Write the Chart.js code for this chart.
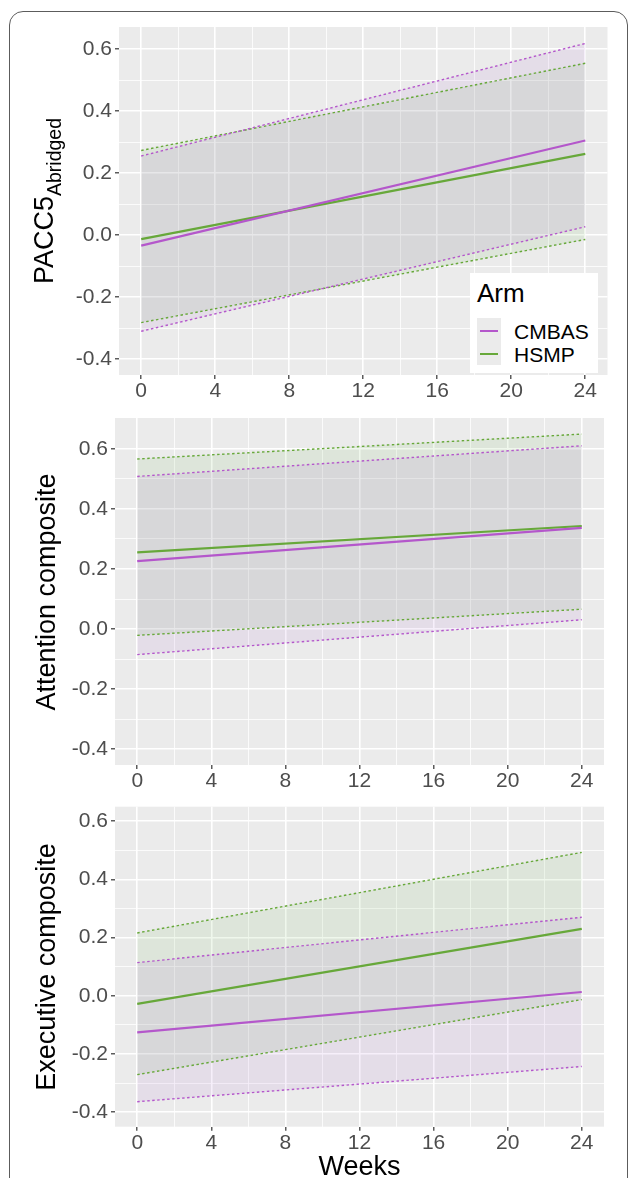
<!DOCTYPE html>
<html><head><meta charset="utf-8">
<script src="https://cdn.jsdelivr.net/npm/chart.js@4.4.1/dist/chart.umd.min.js"></script>
<style>
html,body{margin:0;padding:0;background:#fff;}
body{width:630px;height:1178px;overflow:hidden;position:relative;font-family:"Liberation Sans",Arial,sans-serif;}
canvas{position:absolute;left:0;}
#frame{position:absolute;left:9px;top:11px;width:619px;height:1300px;border:1.5px solid #5c5c5c;border-radius:14px;box-sizing:border-box;}
.ytitle{position:absolute;white-space:nowrap;font-size:27px;line-height:1;color:#000;transform:translate(-50%,-50%) rotate(-90deg);}
.sub{font-size:19.5px;position:relative;top:8px;}
#xtitle{position:absolute;white-space:nowrap;font-size:27px;line-height:1;color:#000;transform:translateX(-50%);}
#legend{position:absolute;left:470px;top:273px;width:128px;height:100px;background:#fff;}
.lg{position:absolute;white-space:nowrap;line-height:1;color:#000;}
</style>
</head><body>
<div id="frame"></div>
<canvas id="c1" width="630" height="400" style="top:0px"></canvas>
<canvas id="c2" width="630" height="390" style="top:400px"></canvas>
<canvas id="c3" width="630" height="388" style="top:790px"></canvas>

<div class="ytitle" style="left:44px;top:201px;">PACC5<span class="sub">Abridged</span></div>
<div class="ytitle" style="left:46px;top:592px;">Attention composite</div>
<div class="ytitle" style="left:46px;top:967px;">Executive composite</div>
<div id="xtitle" style="left:359.5px;top:1153px;">Weeks</div>

<div id="legend">
  <div class="lg" style="left:7px;top:7px;font-size:26px;">Arm</div>
  <div style="position:absolute;left:7px;top:45px;width:24px;height:47px;background:#ebebeb;"></div>
  <div style="position:absolute;left:10px;top:56.7px;width:18px;height:2px;background:#B457CB;"></div>
  <div style="position:absolute;left:10px;top:79.7px;width:18px;height:2px;background:#67A83A;"></div>
  <div class="lg" style="left:44px;top:47.5px;font-size:21px;">CMBAS</div>
  <div class="lg" style="left:44px;top:70.5px;font-size:21px;">HSMP</div>
</div>

<script>
// ---------- data ----------
const weeks = [0, 24];
const xMajor = [0, 4, 8, 12, 16, 20, 24];
const xMinor = [2, 6, 10, 14, 18, 22];
const xTickLabels = ['0', '4', '8', '12', '16', '20', '24'];
const yMajor = [-0.4, -0.2, 0, 0.2, 0.4, 0.6];
const yMinor = [-0.3, -0.1, 0.1, 0.3, 0.5];
const yTickLabels = ['-0.4', '-0.2', '0.0', '0.2', '0.4', '0.6'];
const arms = ['CMBAS', 'HSMP'];

// Panel 1: PACC5 Abridged
const pacc_cmbasMean = [-0.034, 0.305];
const pacc_cmbasLow  = [-0.310, 0.027];
const pacc_cmbasHigh = [0.255, 0.618];
const pacc_hsmpMean  = [-0.013, 0.262];
const pacc_hsmpLow   = [-0.282, -0.014];
const pacc_hsmpHigh  = [0.273, 0.554];

// Panel 2: Attention composite
const att_cmbasMean = [0.226, 0.337];
const att_cmbasLow  = [-0.085, 0.031];
const att_cmbasHigh = [0.508, 0.610];
const att_hsmpMean  = [0.255, 0.343];
const att_hsmpLow   = [-0.021, 0.066];
const att_hsmpHigh  = [0.566, 0.649];

// Panel 3: Executive composite
const exe_cmbasMean = [-0.126, 0.013];
const exe_cmbasLow  = [-0.364, -0.243];
const exe_cmbasHigh = [0.114, 0.270];
const exe_hsmpMean  = [-0.028, 0.230];
const exe_hsmpLow   = [-0.271, -0.013];
const exe_hsmpHigh  = [0.216, 0.493];

// ---------- styling ----------
const PURPLE = '#B457CB';
const GREEN = '#67A83A';
const PURPLE_FILL = 'rgba(170,110,205,0.11)';
const GREEN_FILL = 'rgba(110,180,80,0.11)';
const PANEL_BG = '#EBEBEB';

function pts(ys) { return weeks.map((w, i) => ({ x: w, y: ys[i] })); }
function near(a, b) { return Math.abs(a - b) < 1e-6; }
function isIn(v, arr) { return arr.some(a => near(a, v)); }

const bgPlugin = {
  id: 'panelBg',
  beforeDraw(chart) {
    const a = chart.chartArea, ctx = chart.ctx;
    ctx.save();
    ctx.fillStyle = PANEL_BG;
    ctx.fillRect(a.left, a.top, a.right - a.left, a.bottom - a.top);
    ctx.restore();
  }
};

function makeChart(id, cfg) {
  const dotted = { borderWidth: 1.4, borderDash: [2.5, 2.5], pointRadius: 0, tension: 0 };
  const solid = { borderWidth: 2.2, pointRadius: 0, tension: 0, fill: false };
  const datasets = [
    Object.assign({ label: arms[0], data: pts(cfg.cm.mean), borderColor: PURPLE }, solid),
    Object.assign({ label: arms[1], data: pts(cfg.hs.mean), borderColor: GREEN }, solid),
    Object.assign({ label: arms[0] + ' upper', data: pts(cfg.cm.high), borderColor: PURPLE, backgroundColor: PURPLE_FILL, fill: { target: '+1' } }, dotted),
    Object.assign({ label: arms[0] + ' lower', data: pts(cfg.cm.low), borderColor: PURPLE, fill: false }, dotted),
    Object.assign({ label: arms[1] + ' upper', data: pts(cfg.hs.high), borderColor: GREEN, backgroundColor: GREEN_FILL, fill: { target: '+1' } }, dotted),
    Object.assign({ label: arms[1] + ' lower', data: pts(cfg.hs.low), borderColor: GREEN, fill: false }, dotted),
  ];
  const tickFont = { family: '"Liberation Sans", Arial, sans-serif', size: 21, lineHeight: 1 };
  return new Chart(document.getElementById(id), {
    type: 'line',
    data: { datasets },
    plugins: [bgPlugin],
    options: {
      responsive: false, animation: false, devicePixelRatio: 1,
      layout: { padding: { left: 0, right: cfg.padRight, top: cfg.padTop, bottom: 0 } },
      plugins: { legend: { display: false }, tooltip: { enabled: false }, filler: { drawTime: 'beforeDatasetsDraw' } },
      scales: {
        x: {
          type: 'linear', min: -1.2, max: 25.2,
          afterBuildTicks(s) { s.ticks = xMajor.concat(xMinor).sort((a, b) => a - b).map(v => ({ value: v })); },
          afterFit(s) { s.height = cfg.xHeight; },
          ticks: {
            font: tickFont, color: '#4D4D4D', padding: cfg.xPad, maxRotation: 0, autoSkip: false,
            callback(v) { const i = xMajor.findIndex(a => near(a, v)); return i >= 0 ? xTickLabels[i] : ''; }
          },
          grid: {
            color: '#ffffff',
            lineWidth: c => (c.tick && isIn(c.tick.value, xMajor)) ? 1.6 : 0.8,
            tickColor: c => (c.tick && isIn(c.tick.value, xMajor)) ? '#333333' : 'rgba(0,0,0,0)',
            tickLength: 4, tickWidth: 1.2
          },
          border: { display: false }
        },
        y: {
          type: 'linear', min: cfg.yMin, max: cfg.yMax,
          afterBuildTicks(s) { s.ticks = yMajor.concat(yMinor).sort((a, b) => a - b).map(v => ({ value: v })); },
          afterFit(s) { s.width = cfg.yWidth; },
          ticks: {
            font: tickFont, color: '#4D4D4D', padding: 3, autoSkip: false,
            callback(v) { const i = yMajor.findIndex(a => near(a, v)); return i >= 0 ? yTickLabels[i] : ''; }
          },
          grid: {
            color: '#ffffff',
            lineWidth: c => (c.tick && isIn(c.tick.value, yMajor)) ? 1.6 : 0.8,
            tickColor: c => (c.tick && isIn(c.tick.value, yMajor)) ? '#333333' : 'rgba(0,0,0,0)',
            tickLength: 4, tickWidth: 1.2
          },
          border: { display: false }
        }
      }
    }
  });
}

makeChart('c1', {
  padTop: 27, padRight: 22.5, yWidth: 119, xHeight: 25, xPad: 2,
  yMin: -0.451, yMax: 0.671,
  cm: { mean: pacc_cmbasMean, low: pacc_cmbasLow, high: pacc_cmbasHigh },
  hs: { mean: pacc_hsmpMean, low: pacc_hsmpLow, high: pacc_hsmpHigh }
});
makeChart('c2', {
  padTop: 18, padRight: 26, yWidth: 115, xHeight: 25, xPad: 2,
  yMin: -0.4525, yMax: 0.7025,
  cm: { mean: att_cmbasMean, low: att_cmbasLow, high: att_cmbasHigh },
  hs: { mean: att_hsmpMean, low: att_hsmpLow, high: att_hsmpHigh }
});
makeChart('c3', {
  padTop: 16.7, padRight: 26, yWidth: 115, xHeight: 51.3, xPad: 2,
  yMin: -0.45, yMax: 0.65,
  cm: { mean: exe_cmbasMean, low: exe_cmbasLow, high: exe_cmbasHigh },
  hs: { mean: exe_hsmpMean, low: exe_hsmpLow, high: exe_hsmpHigh }
});
</script>
</body></html>
